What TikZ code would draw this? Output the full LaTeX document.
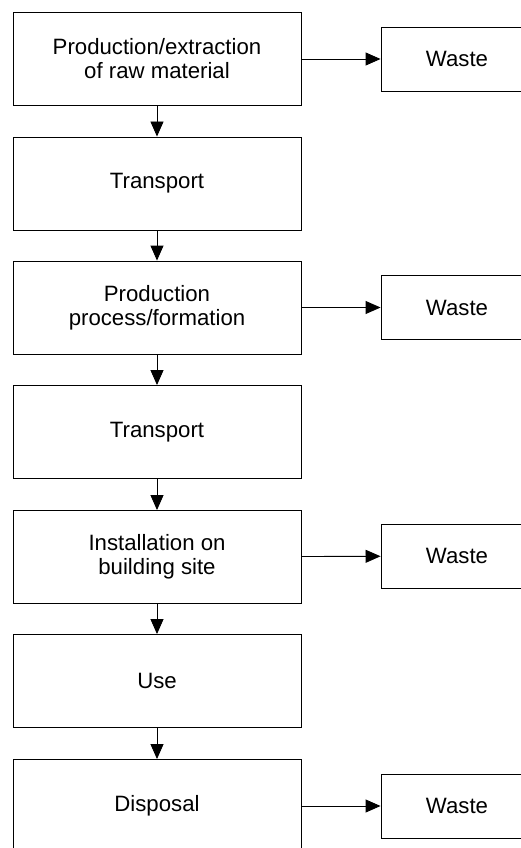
\documentclass[tikz,border=0pt]{standalone}
\usepackage{fontspec}
\setmainfont{Liberation Sans}
\usetikzlibrary{arrows.meta}

\begin{document}
\begin{tikzpicture}[x=1pt, y=-1pt, line width=0.9pt,
    stage/.style={draw, minimum width=288pt, minimum height=93pt, align=center, inner sep=0pt, font=\fontsize{22.2}{24}\selectfont},
    waste/.style={draw, minimum width=152pt, minimum height=64pt, inner sep=0pt, font=\fontsize{22.2}{24}\selectfont},
    flow/.style={-{Triangle[length=15pt, width=13pt]}}]
    \useasboundingbox (0,0) rectangle (520,848);

    % stages
    \node[stage] (raw) at (157,59){Production/extraction\\of raw material};
    \node[stage] (trA) at (157,183.5){Transport};
    \node[stage] (prod) at (157,307.5){Production\\process/formation};
    \node[stage] (trB) at (157,432){Transport};
    \node[stage] (inst) at (157,557){Installation on\\building site};
    \node[stage] (use) at (157,681){Use};
    \node[stage] (disp) at (157,806){Disposal};

    % waste
    \node[waste] (wA) at (457,59){Waste};
    \node[waste] (wB) at (457,307.5){Waste};
    \node[waste] (wC) at (457,556){Waste};
    \node[waste] (wD) at (457,806){Waste};

    % arrows
    \draw[flow] (raw) -- (trA);
    \draw[flow] (trA) -- (prod);
    \draw[flow] (prod) -- (trB);
    \draw[flow] (trB) -- (inst);
    \draw[flow] (inst) -- (use);
    \draw[flow] (use) -- (disp);
    \draw[flow] (raw) -- (wA);
    \draw[flow] (prod) -- (wB);
    \draw[flow] (inst) -- (wC);
    \draw[flow] (disp) -- (wD);
\end{tikzpicture}
\end{document}
